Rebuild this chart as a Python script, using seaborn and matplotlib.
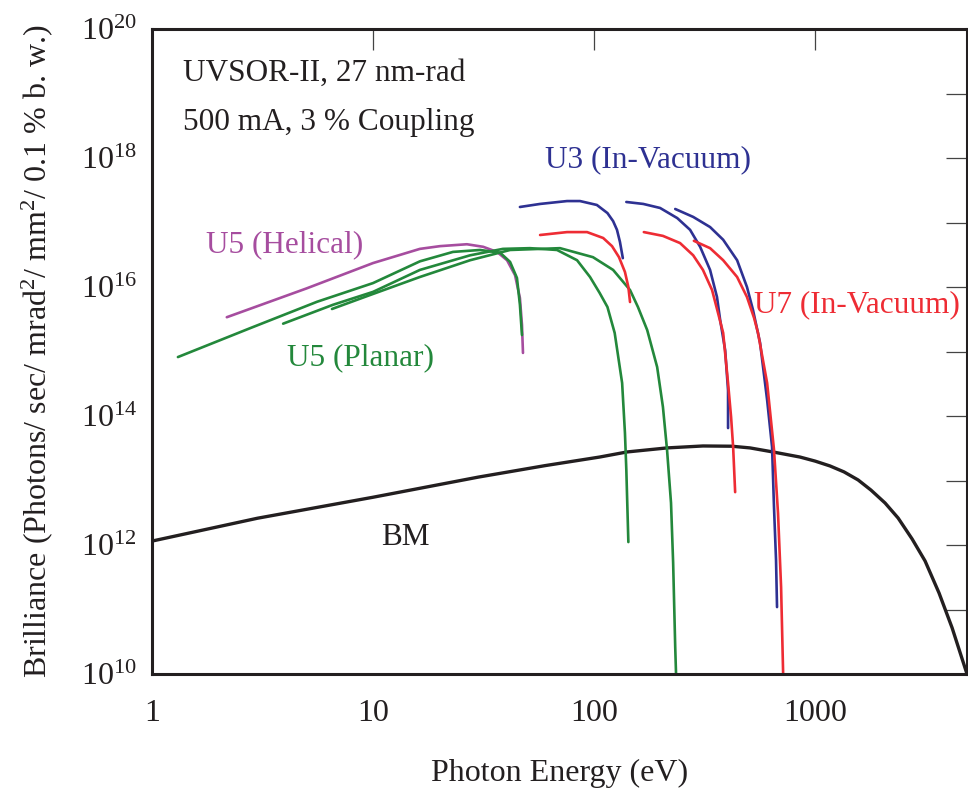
import numpy as np
import pandas as pd
import matplotlib
matplotlib.use("Agg")
import matplotlib.pyplot as plt
import seaborn as sns
from matplotlib.ticker import FixedLocator, FuncFormatter, NullFormatter, NullLocator

sns.set_theme(style="white")
plt.rcParams["font.family"] = ["Liberation Serif", "DejaVu Serif"]
plt.rcParams["mathtext.fontset"] = "custom"
plt.rcParams["mathtext.rm"] = "Liberation Serif"
plt.rcParams["mathtext.it"] = "Liberation Serif:italic"
plt.rcParams["mathtext.bf"] = "Liberation Serif:bold"

# ---- brilliance curves (photon energy in eV, brilliance) ----
bm_energy = [1, 3, 10, 30, 60, 106, 141, 214, 311, 420, 508, 645, 855, 1000,
             1169, 1352, 1566, 1791, 2074, 2376, 2749, 3147, 3640, 4170, 4870]
bm_brill = [1.15e12, 2.6e12, 5.5e12, 1.13e13, 1.7e13, 2.31e13, 2.77e13, 3.2e13,
            3.43e13, 3.4e13, 3.2e13, 2.77e13, 2.31e13, 2.0e13, 1.68e13, 1.36e13,
            1.02e13, 7.1e12, 4.48e12, 2.62e12, 1.24e12, 5.65e11, 1.8e11, 5.2e10,
            1.0e10]

u5_hel_energy = [2.18, 5.0, 10, 16.3, 20.1, 26.6, 31.5, 36.4, 40.4, 43.9, 46.2,
                 47.2, 47.7]
u5_hel_brill = [3.4e15, 9.5e15, 2.35e16, 3.9e16, 4.3e16, 4.6e16, 4.2e16, 3.5e16,
                2.6e16, 1.53e16, 6.75e15, 2.6e15, 9.5e14]

u5_pl1_energy = [1.31, 2.78, 5.58, 10, 16.3, 23.0, 30.5, 37.6, 41.7, 44.8, 46.2, 47.2]
u5_pl1_brill = [8.2e14, 2.3e15, 5.9e15, 1.15e16, 2.5e16, 3.5e16, 3.75e16, 3.4e16,
                2.45e16, 1.38e16, 5.3e15, 1.8e15]

u5_pl3_energy = [3.92, 6.59, 10, 16.3, 27.5, 38.7, 51.3, 68.0, 83.8, 95.9, 106,
                 115, 124, 134, 138, 140, 143]
u5_pl3_brill = [2.7e15, 5.3e15, 8.4e15, 1.84e16, 3.1e16, 3.9e16, 4.0e16, 3.75e16,
                2.6e16, 1.43e16, 8.1e15, 4.9e15, 1.94e15, 3.25e14, 5.45e13,
                1.46e13, 1.11e12]

u5_pl5_energy = [6.52, 9.69, 16.3, 27.5, 41.7, 70.2, 98.9, 122, 145.5, 158, 174,
                 193, 205, 214, 223, 228, 233, 235]
u5_pl5_brill = [4.56e15, 7.5e15, 1.43e16, 2.6e16, 3.75e16, 4.0e16, 2.9e16, 1.84e16,
                8.98e15, 4.9e15, 2.15e15, 5.75e14, 1.38e14, 2.97e13, 4.5e12,
                5.3e11, 2.6e10, 1.0e10]

u3_h1_energy = [46.2, 57.0, 75.5, 86.4, 103, 115, 122, 127, 131, 135]
u3_h1_brill = [1.74e17, 1.94e17, 2.15e17, 2.15e17, 1.87e17, 1.40e17, 1.05e17,
               7.7e16, 5.0e16, 2.8e16]

u3_h3_energy = [140, 167, 199, 238, 272, 302, 335, 360, 372, 392, 404, 404]
u3_h3_brill = [2.08e17, 1.94e17, 1.68e17, 1.17e17, 7.7e16, 4.2e16, 1.84e16, 7.0e15,
               3.1e15, 1.05e15, 2.5e14, 6.5e13]

u3_h5_energy = [233, 281, 335, 384, 444, 492, 524, 564, 607, 639, 652, 666, 673]
u3_h5_brill = [1.62e17, 1.22e17, 8.5e16, 5.4e16, 2.6e16, 1.0e16, 4.4e15, 1.36e15,
               1.77e14, 3.3e13, 3.9e12, 5.85e11, 1.09e11]

u7_h1_energy = [57.0, 75.5, 93.0, 110, 120.6, 129.7, 138, 143, 145.5]
u7_h1_brill = [6.4e16, 7.1e16, 7.1e16, 5.75e16, 4.3e16, 2.9e16, 1.71e16, 1.0e16,
               5.85e15]

u7_h3_energy = [168, 205, 245, 281, 311, 342, 364, 384, 404, 417, 426, 435]
u7_h3_brill = [7.1e16, 6.2e16, 4.8e16, 3.1e16, 1.84e16, 8.98e15, 3.95e15, 1.94e15,
               3.25e14, 9.6e13, 3.3e13, 6.6e12]

u7_h5_energy = [283, 335, 384, 444, 492, 530, 552, 607, 652, 680, 702, 717]
u7_h5_brill = [5.2e16, 4.0e16, 2.6e16, 1.43e16, 7.0e15, 3.3e15, 1.94e15, 3.25e14,
               3.0e13, 3.1e12, 2.23e11, 1.04e10]

# ---- tick values ----
x_ticks = [1, 10, 100, 1000]
y_major_exp = [10, 12, 14, 16, 18, 20]
y_minor_exp = [11, 13, 15, 17, 19]

C_BLACK = "#231f20"
C_BLUE = "#2e3192"
C_RED = "#ee2c34"
C_GREEN = "#23883b"
C_MAGENTA = "#a64d9f"

fig = plt.figure(figsize=(9.68, 7.91), dpi=100)
ax = fig.add_axes([152 / 968, 117 / 791, 815 / 968, 645 / 791])
ax.set_xscale("log")
ax.set_yscale("log")

curves = [
    (bm_energy, bm_brill, C_BLACK, 2.4),
    (u5_hel_energy, u5_hel_brill, C_MAGENTA, 1.9),
    (u5_pl1_energy, u5_pl1_brill, C_GREEN, 1.9),
    (u5_pl3_energy, u5_pl3_brill, C_GREEN, 1.9),
    (u5_pl5_energy, u5_pl5_brill, C_GREEN, 1.9),
    (u3_h1_energy, u3_h1_brill, C_BLUE, 1.9),
    (u3_h3_energy, u3_h3_brill, C_BLUE, 1.9),
    (u3_h5_energy, u3_h5_brill, C_BLUE, 1.9),
    (u7_h1_energy, u7_h1_brill, C_RED, 1.9),
    (u7_h3_energy, u7_h3_brill, C_RED, 1.9),
    (u7_h5_energy, u7_h5_brill, C_RED, 1.9),
]
for energy, brill, color, lw in curves:
    df = pd.DataFrame({"energy": energy, "brilliance": brill})
    sns.lineplot(data=df, x="energy", y="brilliance", color=color, lw=lw,
                 sort=False, estimator=None, ax=ax, legend=False)

ax.set_xlim(1, 4870)
ax.set_ylim(1e10, 1e20)

ax.xaxis.set_major_locator(FixedLocator(x_ticks))
ax.xaxis.set_minor_locator(NullLocator())
ax.xaxis.set_major_formatter(FuncFormatter(lambda v, p: f"{int(round(v))}"))
ax.yaxis.set_major_locator(FixedLocator([10.0 ** k for k in y_major_exp]))
ax.yaxis.set_minor_locator(FixedLocator([10.0 ** k for k in y_minor_exp]))
ax.yaxis.set_minor_formatter(NullFormatter())
ax.yaxis.set_major_formatter(
    FuncFormatter(lambda v, p: r"$\mathdefault{10^{%d}}$" % round(np.log10(v))))

ax.tick_params(axis="both", which="both", direction="in", top=True, right=True,
               length=15, width=0.9, color="#444444", labelcolor=C_BLACK)
ax.tick_params(axis="x", pad=18, labelsize=23)
ax.tick_params(axis="y", pad=11, labelsize=23)

for s in ax.spines.values():
    s.set_linewidth(2.2)
    s.set_color(C_BLACK)

ax.set_xlabel("Photon Energy (eV)", fontsize=23, color=C_BLACK, va="center")
ax.xaxis.set_label_coords(0.5, -0.154)
ax.set_ylabel(r"Brilliance (Photons/ sec/ mrad$^2$/ mm$^2$/ 0.1 % b. w.)",
              fontsize=23, color=C_BLACK, va="center")
ax.yaxis.set_label_coords(-0.141, 0.5)

txt = dict(transform=ax.transAxes, fontsize=22.5, ha="left", va="baseline")
ax.text(0.038, 0.919, "UVSOR-II, 27 nm-rad", color=C_BLACK, **txt)
ax.text(0.038, 0.843, "500 mA, 3 % Coupling", color=C_BLACK, **txt)
ax.text(0.482, 0.786, "U3 (In-Vacuum)", color=C_BLUE, **txt)
ax.text(0.066, 0.654, "U5 (Helical)", color=C_MAGENTA, **txt)
ax.text(0.166, 0.479, "U5 (Planar)", color=C_GREEN, **txt)
ax.text(0.739, 0.561, "U7 (In-Vacuum)", color=C_RED, **txt)
ax.text(0.281, 0.200, "BM", color=C_BLACK, **txt)

fig.savefig("out.png", dpi=100)
